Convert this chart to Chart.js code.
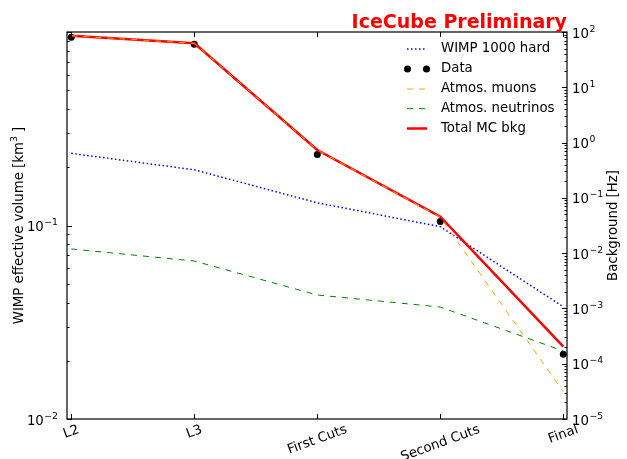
<!DOCTYPE html>
<html>
<head>
<meta charset="utf-8">
<script src="https://cdn.jsdelivr.net/npm/chart.js@4.4.1/dist/chart.umd.min.js"></script>
<style>
  html, body { margin: 0; padding: 0; background: #ffffff; }
  #wrap { width: 627px; height: 459px; }
</style>
</head>
<body>
<div id="wrap"><canvas id="chart" width="627" height="459"></canvas></div>
<script>
// Selection levels along the x axis
const categories = ['L2', 'L3', 'First Cuts', 'Second Cuts', 'Final'];

// WIMP effective volume [km^3] (left axis)
const wimpVolume = [0.236, 0.194, 0.131, 0.0986, 0.038];

// Background rates [Hz] (right axis)
const dataRate     = [80, 60, 0.61, 0.0374, 1.48e-4];
const muonRate     = [85.7, 62.5, 0.734, 0.0446, 3.1e-5];
const neutrinoRate = [0.0119, 0.0072, 0.00175, 0.00106, 1.7e-4];
const totalRate    = [85.7, 62.5, 0.734, 0.0457, 2.03e-4];

// Decade exponents that carry a tick label
const leftTickExponents  = [-2, -1];
const rightTickExponents = [-5, -4, -3, -2, -1, 0, 1, 2];

const seriesNames = ['WIMP 1000 hard', 'Data', 'Atmos. muons', 'Atmos. neutrinos', 'Total MC bkg'];

const FONT = '"DejaVu Sans", "Liberation Sans", sans-serif';
const FS = 13.3;

const toPoints = arr => arr.map((v, i) => ({ x: i, y: v }));

function drawPower(ctx, exp, x, y, align) {
  const base = '10';
  const sup = String(exp).replace('-', '\u2212');
  ctx.font = FS + 'px ' + FONT;
  const wb = ctx.measureText(base).width;
  ctx.font = (FS * 0.7) + 'px ' + FONT;
  const ws = ctx.measureText(sup).width;
  const total = wb + ws + 0.5;
  let x0 = align === 'right' ? x - total : x;
  ctx.textAlign = 'left';
  ctx.textBaseline = 'alphabetic';
  ctx.font = FS + 'px ' + FONT;
  ctx.fillText(base, x0, y + 5.5);
  ctx.font = (FS * 0.7) + 'px ' + FONT;
  ctx.fillText(sup, x0 + wb + 0.5, y - 0.5);
}

const decorations = {
  id: 'decorations',
  afterDraw(chart) {
    const ctx = chart.ctx;
    const area = chart.chartArea;
    const xs = chart.scales.x, yl = chart.scales.yL, yr = chart.scales.yR;
    ctx.save();
    ctx.fillStyle = '#000';
    ctx.strokeStyle = '#000';

    // frame
    ctx.lineWidth = 1.2;
    ctx.strokeRect(area.left, area.top, area.right - area.left, area.bottom - area.top);

    // x ticks (inward, top and bottom)
    ctx.lineWidth = 1;
    ctx.beginPath();
    categories.forEach((c, i) => {
      const px = Math.round(xs.getPixelForValue(i)) + 0.5;
      ctx.moveTo(px, area.bottom); ctx.lineTo(px, area.bottom - 5);
      ctx.moveTo(px, area.top); ctx.lineTo(px, area.top + 5);
    });
    ctx.stroke();

    // log ticks
    function logTicks(scale, lo, hi, side) {
      ctx.beginPath();
      for (let e = lo; e <= hi; e++) {
        for (let m = 1; m <= 9; m++) {
          const v = m * Math.pow(10, e);
          if (v < scale.min * 0.999 || v > scale.max * 1.001) continue;
          const py = Math.round(scale.getPixelForValue(v)) + 0.5;
          const len = m === 1 ? 5 : 2.5;
          if (side === 'left') { ctx.moveTo(area.left, py); ctx.lineTo(area.left + len, py); }
          else { ctx.moveTo(area.right, py); ctx.lineTo(area.right - len, py); }
        }
      }
      ctx.stroke();
    }
    logTicks(yl, -2, 0, 'left');
    logTicks(yr, -5, 2, 'right');

    // y tick labels
    leftTickExponents.forEach(e => drawPower(ctx, e, area.left - 9, yl.getPixelForValue(Math.pow(10, e)), 'right'));
    rightTickExponents.forEach(e => drawPower(ctx, e, area.right + 5, yr.getPixelForValue(Math.pow(10, e)), 'left'));

    // x tick labels, rotated 20 degrees and centred on the tick
    ctx.font = FS + 'px ' + FONT;
    const th = 20 * Math.PI / 180;
    categories.forEach((c, i) => {
      const w = ctx.measureText(c).width;
      const h = FS;
      const bh = w * Math.sin(th) + h * Math.cos(th);
      const cx = xs.getPixelForValue(i);
      const cy = area.bottom + 4 + bh / 2;
      ctx.save();
      ctx.translate(cx, cy);
      ctx.rotate(-th);
      ctx.textAlign = 'center';
      ctx.textBaseline = 'middle';
      ctx.fillText(c, 0, 0);
      ctx.restore();
    });

    // axis titles
    const midY = (area.top + area.bottom) / 2;
    ctx.save();
    ctx.translate(20, midY);
    ctx.rotate(-Math.PI / 2);
    ctx.textBaseline = 'middle';
    ctx.textAlign = 'left';
    const p1 = 'WIMP effective volume [km', p2 = '3', p3 = ' ]';
    ctx.font = FS + 'px ' + FONT;
    const w1 = ctx.measureText(p1).width, w3 = ctx.measureText(p3).width;
    ctx.font = (FS * 0.7) + 'px ' + FONT;
    const w2 = ctx.measureText(p2).width;
    let sx = -(w1 + w2 + w3) / 2;
    ctx.font = FS + 'px ' + FONT;
    ctx.fillText(p1, sx, 0);
    ctx.font = (FS * 0.7) + 'px ' + FONT;
    ctx.fillText(p2, sx + w1, -5);
    ctx.font = FS + 'px ' + FONT;
    ctx.fillText(p3, sx + w1 + w2, 0);
    ctx.restore();

    ctx.save();
    ctx.translate(614, midY);
    ctx.rotate(-Math.PI / 2);
    ctx.textBaseline = 'middle';
    ctx.textAlign = 'center';
    ctx.font = FS + 'px ' + FONT;
    ctx.fillText('Background [Hz]', 0, 0);
    ctx.restore();

    // title
    ctx.font = 'bold 19px ' + FONT;
    ctx.fillStyle = '#ff0000';
    ctx.textAlign = 'right';
    ctx.textBaseline = 'alphabetic';
    ctx.fillText('IceCube Preliminary', area.right, 27.5);

    // legend
    const rows = [49, 69, 89, 108.7, 128.5];
    const ds = chart.data.datasets;
    ds.forEach((d, i) => {
      const y = rows[i];
      if (d.showLine === false) {
        ctx.fillStyle = d.backgroundColor;
        [407.5, 426.5].forEach(px => {
          ctx.beginPath(); ctx.arc(px, y, d.pointRadius, 0, Math.PI * 2); ctx.fill();
        });
      } else {
        ctx.strokeStyle = d.borderColor;
        ctx.lineWidth = d.borderWidth;
        ctx.setLineDash(d.borderDash || []);
        ctx.beginPath(); ctx.moveTo(407, y); ctx.lineTo(427, y); ctx.stroke();
        ctx.setLineDash([]);
      }
      ctx.fillStyle = '#000';
      ctx.font = FS + 'px ' + FONT;
      ctx.textAlign = 'left';
      ctx.textBaseline = 'middle';
      ctx.fillText(d.label, 441, y);
    });
    ctx.restore();
  }
};

new Chart(document.getElementById('chart'), {
  type: 'line',
  data: {
    datasets: [
      { label: seriesNames[0], data: toPoints(wimpVolume), yAxisID: 'yL',
        borderColor: '#0000ff', borderWidth: 1.5, borderDash: [1.5, 2.5],
        pointRadius: 0, fill: false, tension: 0, order: 5 },
      { label: seriesNames[1], data: toPoints(dataRate), yAxisID: 'yR',
        showLine: false, pointRadius: 3.5, backgroundColor: '#000000',
        borderColor: '#000000', pointBorderWidth: 0, clip: false, order: 4 },
      { label: seriesNames[2], data: toPoints(muonRate), yAxisID: 'yR',
        borderColor: '#ffa500', borderWidth: 1, borderDash: [6, 6],
        pointRadius: 0, fill: false, tension: 0, order: 0 },
      { label: seriesNames[3], data: toPoints(neutrinoRate), yAxisID: 'yR',
        borderColor: '#008000', borderWidth: 1, borderDash: [6, 6],
        pointRadius: 0, fill: false, tension: 0, order: 2 },
      { label: seriesNames[4], data: toPoints(totalRate), yAxisID: 'yR',
        borderColor: '#ff0000', borderWidth: 2.5,
        pointRadius: 0, fill: false, tension: 0, order: 1 }
    ]
  },
  options: {
    responsive: false,
    devicePixelRatio: 1,
    animation: false,
    events: [],
    layout: { padding: { left: 67, right: 60, top: 32, bottom: 40 } },
    scales: {
      x: { type: 'linear', min: -0.035, max: 4.03, display: false },
      yL: { type: 'logarithmic', position: 'left', min: 0.01, max: 1, display: false },
      yR: { type: 'logarithmic', position: 'right', min: 1e-5, max: 100, display: false }
    },
    plugins: { legend: { display: false }, tooltip: { enabled: false }, title: { display: false } }
  },
  plugins: [decorations]
});
</script>
</body>
</html>
